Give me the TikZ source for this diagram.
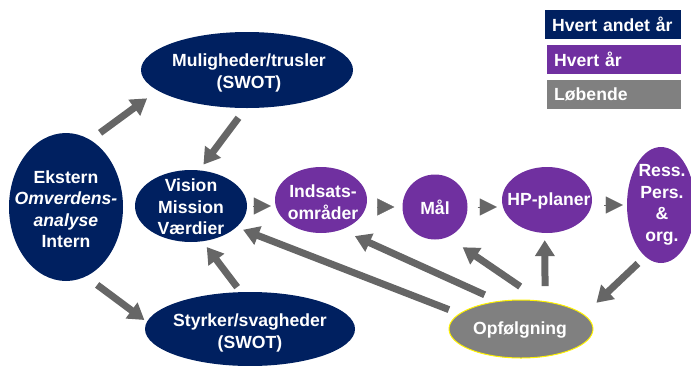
\documentclass[tikz,border=0pt]{standalone}
\usepackage{fontspec}
\setmainfont{Liberation Sans}
\usetikzlibrary{shapes.geometric,arrows.meta}

\definecolor{navy}{HTML}{002060}
\definecolor{purp}{HTML}{7030A0}
\definecolor{midgray}{HTML}{808080}
\definecolor{arrowgray}{HTML}{666666}

\tikzset{
  blob/.style={ellipse, inner sep=0pt},
  navyblob/.style={blob, fill=navy},
  purpleblob/.style={blob, fill=purp},
  lbl/.style={text=white, font=\fontsize{17.6}{21.5}\selectfont\bfseries, align=center, inner sep=0pt},
  bigarrow/.style={draw=arrowgray, line width=7pt, -{Triangle[length=16pt,width=19pt]}},
  rowhead/.style={draw=arrowgray, line width=0.2pt, -{Triangle[length=17pt,width=17pt]}},
  legendbox/.style={anchor=west, minimum height=29pt, inner xsep=7pt, inner ysep=0pt,
    align=left, text=white, font=\fontsize{17.6}{21.5}\selectfont\bfseries}
}

\begin{document}
\begin{tikzpicture}[x=1pt,y=-1pt]
    \useasboundingbox (0,0) rectangle (691,365);
    % legend
    \node[legendbox, fill=navy, text width=122pt] (leg2) at (545,24.5) {Hvert andet år};
    \node[legendbox, fill=purp, text width=120pt] (leg1) at (547,59) {Hvert år};
    \node[legendbox, fill=midgray, text width=120pt] (leg0) at (547,94.5) {Løbende};

    % strategy ellipses
    \node[navyblob, minimum width=114pt, minimum height=148pt] (ext) at (66,207) {};
    \node[lbl] (ext-t) at (66,209) {Ekstern\\\textit{Omverdens-}\\\textit{analyse}\\Intern};
    \node[navyblob, minimum width=212pt, minimum height=76pt] (mul) at (247,70) {};
    \node[lbl] (mul-t) at (249,73) {Muligheder/trusler\\(SWOT)};
    \node[navyblob, minimum width=112pt, minimum height=72pt] (vis) at (191,206) {};
    \node[lbl] (vis-t) at (191,207) {Vision\\Mission\\Værdier};
    \node[navyblob, minimum width=210pt, minimum height=74pt] (sty) at (250,329) {};
    \node[lbl] (sty-t) at (250,333) {Styrker/svagheder\\(SWOT)};

    % yearly chain
    \node[purpleblob, minimum width=92pt, minimum height=66pt] (ind) at (321,200) {};
    \node[lbl] (ind-t) at (323,202) {Indsats-\\områder};
    \node[purpleblob, minimum width=65pt, minimum height=65pt] (maal) at (435,207) {};
    \node[lbl] (maal-t) at (435,207) {Mål};
    \node[purpleblob, minimum width=90pt, minimum height=66pt] (hp) at (547,200) {};
    \node[lbl] (hp-t) at (549,201) {HP-planer};
    \node[purpleblob, minimum width=68pt, minimum height=116pt] (ress) at (661,205) {};
    \node[lbl] (ress-t) at (662,205) {Ress.\\Pers.\\\&\\org.};

    % follow-up
    \node[blob, fill=midgray, draw=yellow, line width=1pt, minimum width=144pt, minimum height=58pt] (opf) at (521,329) {};
    \node[lbl] (opf-t) at (520,330) {Opfølgning};

    % arrows
    \draw[bigarrow, shorten <=12pt, shorten >=13pt] (ext.70) -- (mul.193);
    \draw[bigarrow, shorten <=12pt, shorten >=7pt] (mul.268) -- (vis.77);
    \draw[bigarrow, shorten <=14pt, shorten >=3pt] (ext.286) -- (sty.176);
    \draw[bigarrow, shorten <=6pt, shorten >=7pt] (sty.104) -- (vis.288);
    \draw[bigarrow, shorten <=11pt, shorten >=7pt] (opf.166) -- (vis.335);
    \draw[bigarrow, shorten <=15pt, shorten >=15pt] (opf.129) -- (ind.304);
    \draw[bigarrow, shorten <=25pt, shorten >=18pt] (opf.55) -- (maal.293);
    \draw[bigarrow, shorten <=15pt, shorten >=7pt] (opf.49) -- (hp.266);
    \draw[bigarrow, shorten <=10pt, shorten >=17pt] (ress.253) -- (opf.13);

    \draw[rowhead, shorten <=6pt, shorten >=4pt] (vis.east) -- (vis.east -| ind.west);
    \draw[rowhead, shorten <=11pt, shorten >=8pt] (ind.east |- maal.west) -- (maal.west);
    \draw[rowhead, shorten <=10pt, shorten >=5pt] (maal.east) -- (maal.east -| hp.west);
    \draw[rowhead, shorten <=12pt, shorten >=4pt] (hp.east |- ress.west) -- (ress.west);
  \end{tikzpicture}
\end{document}
